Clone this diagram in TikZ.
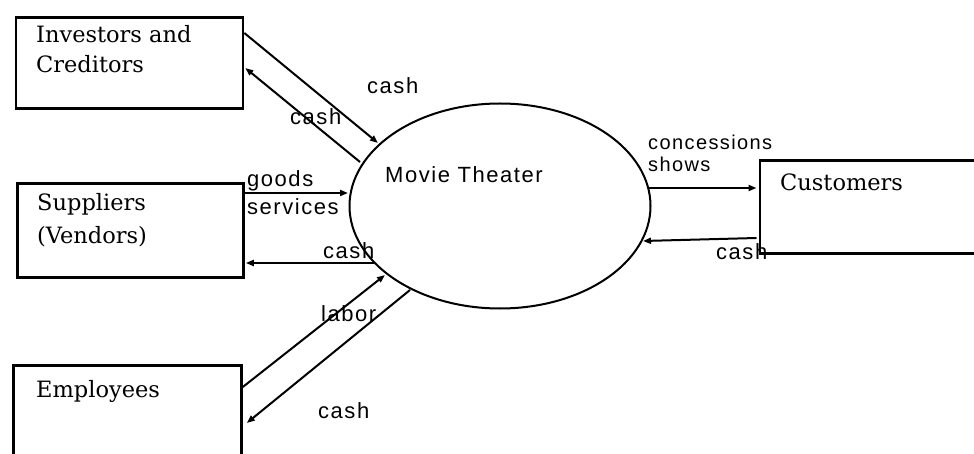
\documentclass[tikz,border=0pt]{standalone}
\usepackage{fontspec}
\setmainfont{DejaVu Serif}
\newfontfamily\labfont[LetterSpace=7]{Liberation Sans}
\usetikzlibrary{arrows.meta,calc,shapes.geometric}
\tikzset{
  box/.style={draw, line width=2.8pt, rectangle, inner sep=0pt, anchor=north west},
  boxtext/.style={anchor=base west, inner sep=0pt, font=\fontsize{22.5}{26}\selectfont},
  lab/.style={anchor=base west, inner sep=0pt, font=\labfont\fontsize{22}{26}\selectfont},
  smalllab/.style={anchor=base west, inner sep=0pt, font=\labfont\fontsize{20}{24}\selectfont},
  flow/.style={line width=2pt, -{Triangle[length=8pt,width=6pt]}},
  proc/.style={draw, ellipse, line width=2pt, inner sep=0pt, minimum width=301pt, minimum height=205pt}
}
\begin{document}
\begin{tikzpicture}[x=1pt,y=-1pt]
\clip (0,0) rectangle (974,454);
\fill[white] (0,0) rectangle (974,454);
% boxes
\node[box, minimum width=227pt, minimum height=91pt] (inv) at (14.5,16) {};
\node[box, minimum width=226pt, minimum height=94pt] (sup) at (16,182) {};
\node[box, minimum width=228pt, minimum height=120pt] (emp) at (12,364) {};
\node[box, minimum width=240pt, minimum height=93pt] (cus) at (758.5,159) {};
% process
\node[proc] (mt) at (500,206) {};
% box texts
\node[boxtext] (t1) at (36,43) {Investors and};
\node[boxtext] (t2) at (36,73) {Creditors};
\node[boxtext] (t3) at (37,210.5) {Suppliers};
\node[boxtext] (t4) at (37,243.5) {(Vendors)};
\node[boxtext] (t5) at (36,397) {Employees};
\node[boxtext] (t6) at (780,191) {Customers};
\node[lab] (t7) at (385,183) {Movie Theater};
% flows
\draw[flow] ($(inv.north east)+(0,17)$) -- ($(mt.center)+(-122,-63)$);
\draw[flow] ($(mt.center)+(-140,-44)$) -- ($(inv.north east)+(1,52)$);
\draw[flow] ($(sup.north east)+(0,11)$) -- ($(mt.center)+(-152,-13)$);
\draw[flow] ($(mt.center)+(-126,57)$) -- ($(sup.north east)+(1,81)$);
\draw[flow] ($(emp.north east)+(0,23)$) -- ($(mt.center)+(-115,69)$);
\draw[flow] ($(mt.center)+(-90,84)$) -- ($(emp.north east)+(4,59)$);
\draw[flow] ($(mt.center)+(148,-18)$) -- ($(cus.north west)+(-2,29)$);
\draw[flow] ($(cus.north west)+(-2,79)$) -- ($(mt.center)+(143,35)$);
% labels
\node[lab] (l1) at (367,94) {cash};
\node[lab] (l2) at (290,125) {cash};
\node[lab] (l3) at (247,187) {goods};
\node[lab] (l4) at (247,215) {services};
\node[lab] (l5) at (323,259) {cash};
\node[lab] (l6) at (321,321) {labor};
\node[lab] (l7) at (318,418) {cash};
\node[smalllab] (l8) at (648,150) {concessions};
\node[smalllab] (l9) at (648,172) {shows};
\node[lab] (l10) at (716,260) {cash};
\end{tikzpicture}
\end{document}
